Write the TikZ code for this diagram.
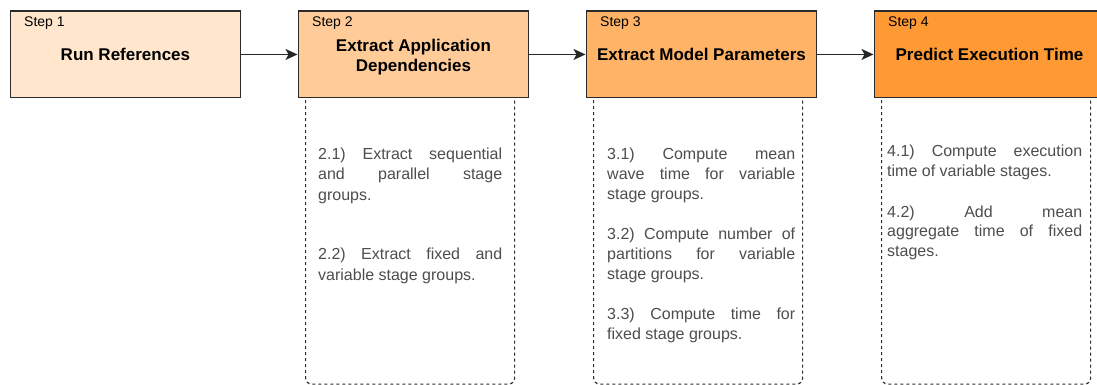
\documentclass[tikz,border=0pt]{standalone}
\usepackage{fontspec}
\setmainfont{Liberation Sans}
\usetikzlibrary{arrows.meta,calc}
\definecolor{fillA}{HTML}{FFE6CC}
\definecolor{fillB}{HTML}{FFCC99}
\definecolor{fillC}{HTML}{FFB366}
\definecolor{fillD}{HTML}{FF9933}
\definecolor{edgecol}{HTML}{2B2B2B}
\definecolor{bodytxt}{HTML}{4D4D4D}
\begin{document}
\begin{tikzpicture}[x=1pt,y=-1pt,
  stepbox/.style={draw=edgecol, line width=1.4pt, anchor=north west,
    minimum width=230.5pt, minimum height=86.5pt, inner sep=0pt,
    align=center, font=\fontsize{17}{20}\selectfont\bfseries, text=black},
  titletext/.style={inner sep=0pt, align=center,
    font=\fontsize{17}{20}\selectfont\bfseries, text=black},
  steplabel/.style={anchor=base west, inner sep=0pt, font=\fontsize{14}{16}\selectfont, text=black},
  dbox/.style={draw=edgecol, line width=1.2pt, dash pattern=on 3pt off 3pt,
    rounded corners=6pt, anchor=north west, minimum width=209pt,
    minimum height=323.5pt, inner sep=0pt},
  body/.style={anchor=base west, inner sep=0pt, align=justify,
    font=\fontsize{16}{20}\selectfont, text=bodytxt},
  conn/.style={draw=black!85, line width=1.4pt, -{Stealth[length=12pt,width=11pt,inset=3pt]}}
]
\useasboundingbox (0,0) rectangle (1097,385);
\clip (0,0) rectangle (1097,385);

% dashed detail boxes (behind)
\node[dbox] (d2) at (305,60) {};
\node[dbox] (d3) at (593,60) {};
\node[dbox] (d4) at (881,60) {};

% step boxes
\node[stepbox, fill=fillA] (s1) at (9.5,10.5) {Run References};
\node[stepbox, fill=fillB] (s2) at (297.5,10.5) {};
\node[stepbox, fill=fillC] (s3) at (585.5,10.5) {Extract Model Parameters};
\node[stepbox, fill=fillD] (s4) at (873.5,10.5) {Predict Execution Time};
\node[titletext] (h2) at ($(s2.center)+(0,2.5)$) {Extract Application\\Dependencies};

\node[steplabel] (l1) at ($(s1.north west)+(14.5,16)$) {Step 1};
\node[steplabel] (l2) at ($(s2.north west)+(14.5,16)$) {Step 2};
\node[steplabel] (l3) at ($(s3.north west)+(14.5,16)$) {Step 3};
\node[steplabel] (l4) at ($(s4.north west)+(14.5,16)$) {Step 4};

% connectors
\draw[conn] (s1.east) -- (s2.west);
\draw[conn] (s2.east) -- (s3.west);
\draw[conn] (s3.east) -- (s4.west);

% detail texts
\node[body, text width=184pt] (t2) at (318,160) {2.1) Extract sequential\linebreak and parallel stage\linebreak groups.\par\vspace{40pt}
2.2) Extract fixed and\linebreak variable stage groups.};
\node[body, text width=188pt] (t3) at (607,159.5) {3.1) Compute mean\linebreak wave time for variable\linebreak stage groups.\par\vspace{20pt}
3.2) Compute number of\linebreak partitions for variable\linebreak stage groups.\par\vspace{20pt}
3.3) Compute time for\linebreak fixed stage groups.};
\node[body, text width=195pt] (t4) at (887,157) {4.1) Compute execution\linebreak time of variable stages.\par\vspace{20pt}
4.2) Add mean\linebreak aggregate time of fixed\linebreak stages.};
\end{tikzpicture}
\end{document}
